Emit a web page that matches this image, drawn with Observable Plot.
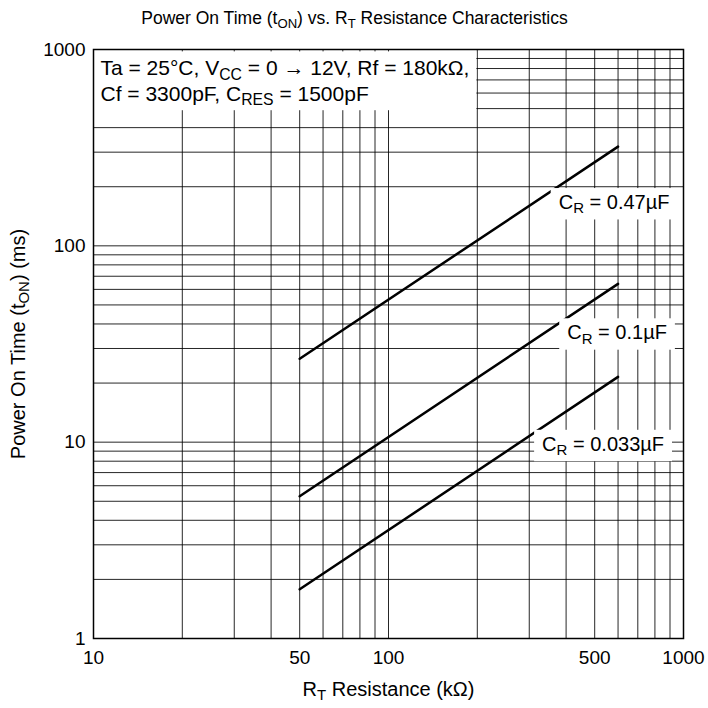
<!DOCTYPE html>
<html>
<head>
<meta charset="utf-8">
<script src="https://cdn.jsdelivr.net/npm/d3@7"></script>
<script src="https://cdn.jsdelivr.net/npm/@observablehq/plot@0.6"></script>
<style>
  html, body { margin: 0; padding: 0; background: white; }
  #chart { width: 708px; height: 708px; }
</style>
</head>
<body>
<div id="chart"></div>
<script>
// ---- data ----
const resistance = [50, 600];                 // kΩ (line endpoints)
const seriesNames = ["C_{R} = 0.47µF", "C_{R} = 0.1µF", "C_{R} = 0.033µF"];
const t047 = [26.6, 320];                    // ms
const t01 = [5.3, 64];                       // ms
const t0033 = [1.78, 21.5];                  // ms
const xTicks = [10, 50, 100, 500, 1000];
const yTicks = [1, 5, 10, 50, 100, 500, 1000];
const xGrid = [20, 30, 40, 50, 60, 70, 80, 90, 100, 200, 300, 400, 500, 600, 700, 800, 900];
const yGrid = [2, 3, 4, 5, 6, 7, 8, 9, 10, 20, 30, 40, 50, 60, 70, 80, 90, 100, 200, 300, 400, 500, 600, 700, 800, 900];
const titleText = "Power On Time (t_{ON}) vs. R_{T} Resistance Characteristics";
const xLabel = "R_{T} Resistance (kΩ)";
const yLabel = "Power On Time (t_{ON}) (ms)";
const noteLines = ["Ta = 25°C, V_{CC} = 0 → 12V, Rf = 180kΩ,", "Cf = 3300pF, C_{RES} = 1500pF"];

const seriesValues = [t047, t01, t0033];
const rows = [];
seriesNames.forEach((s, i) => resistance.forEach((r, j) => rows.push({s, r, t: seriesValues[i][j], i, j})));
const ends = rows.filter(d => d.j === resistance.length - 1);

const labelOffsets = [[-4, 56], [-1, 49], [-15, 67.5]];

const svg = Plot.plot({
  width: 708,
  height: 708,
  marginLeft: 93,
  marginRight: 25,
  marginTop: 49,
  marginBottom: 70,
  style: {fontFamily: "'Liberation Sans', Arial, sans-serif", fontSize: "19px", background: "white", color: "black"},
  x: {type: "log", domain: [10, 1000]},
  y: {type: "log", domain: [1, 1000]},
  marks: [
    Plot.ruleX(xGrid, {stroke: "#000", strokeWidth: 1, strokeOpacity: 0.85}),
    Plot.ruleY(yGrid, {stroke: "#000", strokeWidth: 1, strokeOpacity: 0.85}),
    Plot.axisX({ticks: xTicks, tickSize: 0, tickPadding: 12, tickFormat: d => String(d), label: null, fontSize: 19}),
    Plot.axisY({ticks: yTicks, tickSize: 0, tickPadding: 8, tickFormat: d => String(d), label: null, fontSize: 19}),
    Plot.line(rows, {x: "r", y: "t", z: "s", stroke: "black", strokeWidth: 2.5}),
    ...ends.map((d, k) => Plot.text([d], {x: "r", y: "t", text: "s", dx: labelOffsets[k][0], dy: labelOffsets[k][1], fontSize: 20, fill: "black", textAnchor: "middle", lineAnchor: "middle"})),
    Plot.text([noteLines.join("\n")], {frameAnchor: "top-left", dx: 7, dy: 8, textAnchor: "start", lineAnchor: "top", lineHeight: 1.2, fontSize: 21, fill: "black"}),
    Plot.text([titleText], {frameAnchor: "top", dx: -34, dy: -31, fontSize: 17.5, lineAnchor: "middle", textAnchor: "middle", fill: "black"}),
    Plot.text([xLabel], {frameAnchor: "bottom", dy: 50.6, fontSize: 20, lineAnchor: "middle", textAnchor: "middle", fill: "black"}),
    Plot.text([yLabel], {frameAnchor: "left", dx: -75, rotate: -90, fontSize: 20, lineAnchor: "middle", textAnchor: "middle", fill: "black"}),
    Plot.frame({stroke: "black", strokeWidth: 1.5})
  ]
});
document.getElementById("chart").appendChild(svg);

// ---- rich text (subscripts) and label boxes ----
const NS = "http://www.w3.org/2000/svg";
function rich(el) {
  const s = el.textContent;
  if (!s.includes("_{")) return;
  const size = parseFloat(getComputedStyle(el).fontSize) || 19;
  const shift = size * 0.22;
  el.textContent = "";
  const parts = s.split(/(_\{[^}]*\})/);
  let shifted = false;
  for (const p of parts) {
    if (!p) continue;
    const sub = p.startsWith("_{");
    const t = document.createElementNS(NS, "tspan");
    t.textContent = sub ? p.slice(2, -1) : p;
    if (sub) { t.setAttribute("font-size", (size * 0.75).toFixed(2)); t.setAttribute("dy", shift.toFixed(2)); shifted = true; }
    else if (shifted) { t.setAttribute("dy", (-shift).toFixed(2)); shifted = false; }
    el.appendChild(t);
  }
}
const boxed = new Set([...seriesNames, noteLines.join("\n"), ...noteLines]);
const texts = Array.from(svg.querySelectorAll("text"));
const needBox = texts.filter(t => {
  const lines = t.querySelectorAll("tspan");
  const content = lines.length ? Array.from(lines).map(l => l.textContent).join("\n") : t.textContent;
  return boxed.has(content) || boxed.has(t.textContent);
});
texts.forEach(t => {
  const lines = t.querySelectorAll("tspan");
  if (lines.length) lines.forEach(rich); else rich(t);
});
needBox.forEach(t => {
  const b = t.getBBox();
  const isNote = t.textContent.startsWith("Ta");
  const padX = isNote ? 7 : 8, padTop = isNote ? 5 : 3, padBottom = isNote ? 2 : 3;
  const r = document.createElementNS(NS, "rect");
  r.setAttribute("x", b.x - padX);
  r.setAttribute("y", b.y - padTop);
  r.setAttribute("width", b.width + 2 * padX);
  r.setAttribute("height", b.height + padTop + padBottom);
  r.setAttribute("fill", "white");
  const tr = t.getAttribute("transform");
  if (tr) r.setAttribute("transform", tr);
  t.parentNode.insertBefore(r, t);
});
</script>
</body>
</html>
